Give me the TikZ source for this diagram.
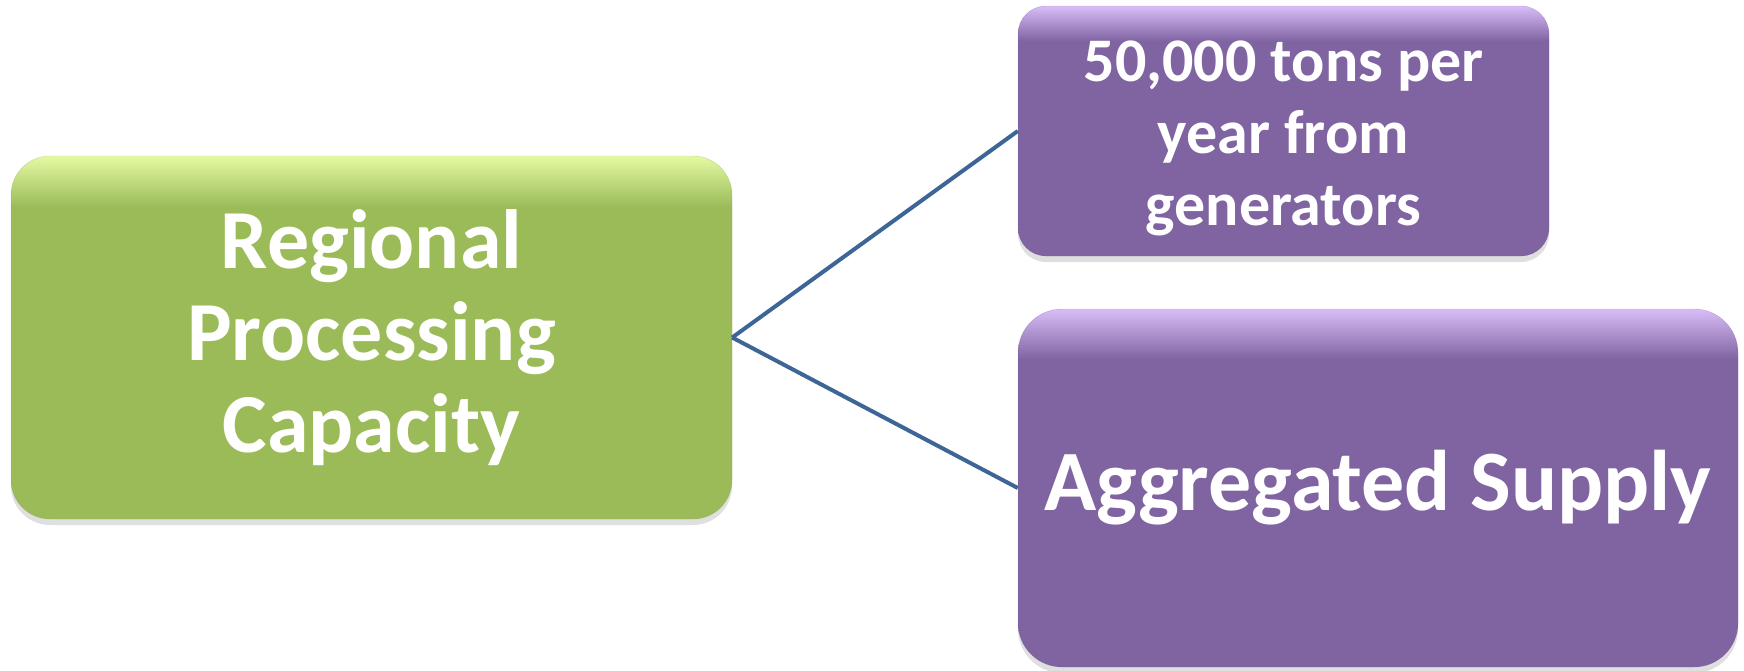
\documentclass[tikz,border=0pt]{standalone}
\usepackage{fontspec}
\setmainfont{Carlito}
\usetikzlibrary{shadows}
\definecolor{greenbase}{HTML}{9BBB59}
\definecolor{greenlight}{HTML}{E4FAA2}
\definecolor{purplebase}{HTML}{8064A2}
\definecolor{purplelight}{HTML}{D8BDF8}
\definecolor{linkblue}{HTML}{3D6596}
% vertical shadings: flat base colour with a light band along the top edge
\pgfdeclareverticalshading{greenglow}{100bp}{color(0bp)=(greenbase); color(25bp)=(greenbase); color(68bp)=(greenbase); color(75bp)=(greenlight); color(100bp)=(greenlight)}
\pgfdeclareverticalshading{purpleglow}{100bp}{color(0bp)=(purplebase); color(25bp)=(purplebase); color(68bp)=(purplebase); color(75bp)=(purplelight); color(100bp)=(purplelight)}
\tikzset{
  box/.style={rectangle, align=center, text=white, inner sep=0pt,
    font=\bfseries,
    drop shadow={opacity=0.25, shadow xshift=0pt, shadow yshift=-6pt},
    draw opacity=0.35},
  greenbox/.style={box, shading=greenglow, draw=greenbase!80!black},
  purplebox/.style={box, shading=purpleglow, draw=purplebase!80!black},
  boxtext/.style={align=center, text=white, inner sep=0pt},
  link/.style={draw=linkblue, line width=4pt}
}
\begin{document}
\begin{tikzpicture}[x=1pt,y=-1pt]
\useasboundingbox (0,0) rectangle (1744,670);
\node[greenbox, minimum width=721pt, minimum height=363pt, rounded corners=39pt,
  font=\bfseries\fontsize{84}{92}\selectfont] (capacity) at (371.5,337.5)
  {Regional\\Processing\\Capacity};
\node[purplebox, minimum width=531pt, minimum height=250pt, rounded corners=28pt] (tons) at (1283.5,131) {};
\node[boxtext, font=\bfseries\fontsize{62}{72}\selectfont] (tonstext) at ([yshift=-7pt]tons.center)
  {50,000 tons per\\year from\\generators};
\node[purplebox, minimum width=720pt, minimum height=358pt, rounded corners=44pt,
  font=\bfseries\fontsize{86}{100}\selectfont] (supply) at (1378,488)
  {Aggregated Supply};
\draw[link] (capacity.east) -- (tons.west);
\draw[link] (capacity.east) -- (supply.west);
\end{tikzpicture}
\end{document}
